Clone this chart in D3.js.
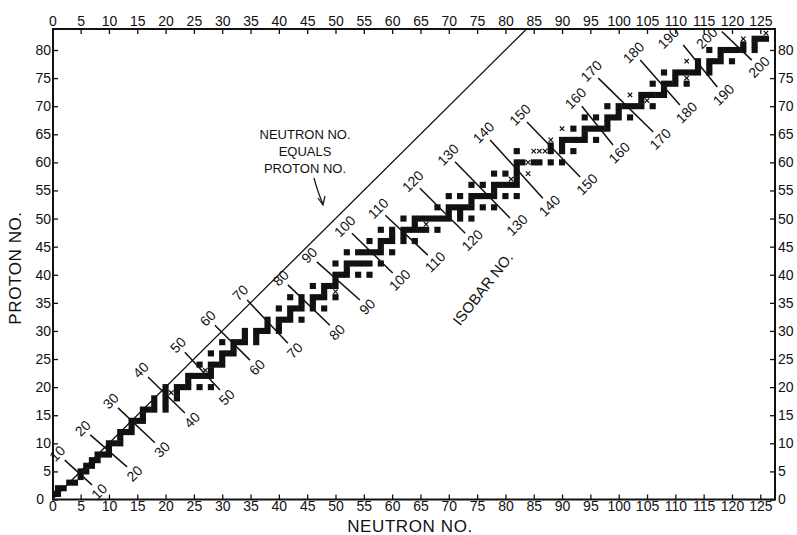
<!DOCTYPE html>
<html>
<head>
<meta charset="utf-8">
<script src="https://cdn.jsdelivr.net/npm/d3@7"></script>
<style>
body { margin: 0; background: #fff; }
text { font-family: "Liberation Sans", Arial, sans-serif; fill: #111; }
</style>
</head>
<body>
<script>
// proton number Z -> neutron numbers of the stable nuclides
var protonNo = d3.range(1, 84);
var neutronNo = [
  [0, 1], [1, 2], [3, 4], [5], [5, 6], [6, 7], [7, 8], [8, 9, 10], [10], [10, 11, 12],
  [12], [12, 13, 14], [14], [14, 15, 16], [16], [16, 17, 18, 20], [18, 20], [18, 20, 22], [20, 22], [20, 22, 23, 24, 26, 28],
  [24], [24, 25, 26, 27, 28], [28], [26, 28, 29, 30], [30], [28, 30, 31, 32], [32], [30, 32, 33, 34, 36], [34, 36], [34, 36, 37, 38, 40],
  [38, 40], [38, 40, 41, 42, 44], [42], [40, 42, 43, 44, 46, 48], [44, 46], [42, 44, 46, 47, 48, 50], [48], [46, 48, 49, 50], [50], [50, 51, 52, 54, 56],
  [52], [50, 52, 53, 54, 55, 56, 58], [], [52, 54, 55, 56, 57, 58, 60], [58], [56, 58, 59, 60, 62, 64], [60, 62], [58, 60, 62, 63, 64, 65, 66, 68], [64], [62, 64, 65, 66, 67, 68, 69, 70, 72, 74],
  [70, 72], [68, 70, 71, 72, 73, 74, 76, 78], [74], [70, 72, 74, 75, 76, 77, 78, 80, 82], [78], [74, 76, 78, 79, 80, 81, 82], [82], [78, 80, 82], [82], [82, 83, 85, 86, 88, 90],
  [], [82, 88, 90, 92], [88, 90], [90, 91, 92, 93, 94, 96], [94], [92, 94, 95, 96, 97, 98], [98], [94, 96, 98, 99, 100, 102], [100], [98, 100, 101, 102, 103, 104, 106],
  [104], [104, 105, 106, 107, 108], [108], [106, 108, 109, 110, 112], [110], [108, 110, 111, 112, 113, 114, 116], [114, 116], [114, 116, 117, 118, 120], [118], [116, 118, 119, 120, 121, 122, 124],
  [122, 124], [124, 125, 126], []
];

// naturally radioactive ones, drawn as x
var crossN = [21, 27, 50, 66, 81, 84, 84, 85, 86, 87, 88, 90, 102, 105, 112, 112, 122, 126];
var crossZ = [19, 23, 37, 49, 57, 58, 60, 62, 62, 62, 64, 66, 72, 71, 75, 78, 82, 83];

// isobar lines: mass number and the (N, Z) at each end of the drawn segment
var isobarA = [10, 20, 30, 40, 50, 60, 70, 80, 90, 100, 110, 120, 130, 140, 150, 160, 170, 180, 190, 200];
var isoTopN = [2.2, 6.7, 11.6, 16.9, 23.4, 28.7, 34.4, 41.6, 46.7, 52.9, 58.8, 64.9, 71.1, 77.3, 83.8, 93.5, 96.4, 103.8, 111.4, 118.2];
var isoTopZ = [7.0, 11.5, 16.3, 21.8, 26.2, 31.0, 35.5, 38.2, 42.3, 47.4, 50.6, 55.4, 60.1, 64.0, 67.2, 70.0, 75.0, 78.2, 80.9, 83.3];
var isoBotN = [7.0, 13.2, 18.1, 23.4, 29.6, 34.9, 41.6, 49.0, 54.3, 60.1, 66.3, 72.9, 80.8, 86.6, 93.2, 99.0, 106.1, 110.8, 117.4, 123.5];
var isoBotZ = [2.6, 5.8, 10.1, 15.4, 19.5, 24.8, 27.8, 31.0, 35.5, 40.3, 43.5, 47.4, 50.1, 53.6, 57.4, 63.1, 65.4, 70.2, 73.4, 78.2];

var tickN = d3.range(0, 126, 5);
var tickZ = d3.range(0, 81, 5);

var w = 797, h = 535;
var frameL = 53, frameR = 775, frameT = 29, frameB = 499.5;

var svg = d3.select("body").append("svg")
  .attr("width", w)
  .attr("height", h);

var x = d3.scaleLinear().domain([0, 125]).range([52.3, 760.3]);
var y = d3.scaleLinear().domain([0, 80]).range([499.5, 50]);

var cw = x(1) - x(0) + 0.5, ch = y(0) - y(1) + 0.5;

// stable nuclides
var cells = [];
protonNo.forEach(function(z, i) {
  neutronNo[i].forEach(function(n) { cells.push({ n: n, z: z }); });
});

svg.append("g").selectAll("rect")
  .data(cells)
  .enter()
  .append("rect")
  .attr("x", function(d) { return Math.max(frameL, x(d.n) - cw / 2); })
  .attr("y", function(d) { return Math.max(frameT, y(d.z) - ch / 2); })
  .attr("width", function(d) { return Math.min(frameR, x(d.n) + cw / 2) - Math.max(frameL, x(d.n) - cw / 2); })
  .attr("height", function(d) { return Math.min(frameB, y(d.z) + ch / 2) - Math.max(frameT, y(d.z) - ch / 2); })
  .attr("fill", "#111");

var crosses = crossN.map(function(n, i) { return { n: n, z: crossZ[i] }; });
var cg = svg.append("g").attr("stroke", "#111").attr("stroke-width", 1.2);
crosses.forEach(function(d) {
  var cx = x(d.n), cy = y(d.z), s = 2.2;
  cg.append("line").attr("x1", cx - s).attr("y1", cy - s).attr("x2", cx + s).attr("y2", cy + s);
  cg.append("line").attr("x1", cx - s).attr("y1", cy + s).attr("x2", cx + s).attr("y2", cy - s);
});

// N = Z line
var zTop = y.invert(frameT);
svg.append("line")
  .attr("x1", x(0)).attr("y1", y(0))
  .attr("x2", x(zTop)).attr("y2", y(zTop))
  .attr("stroke", "#111").attr("stroke-width", 1.3);

// isobar lines and labels
var iso = isobarA.map(function(a, i) {
  return { a: a, n1: isoTopN[i], z1: isoTopZ[i], n2: isoBotN[i], z2: isoBotZ[i] };
});
var ig = svg.append("g");
iso.forEach(function(d) {
  var x1 = x(d.n1), y1 = y(d.z1), x2 = x(d.n2), y2 = y(d.z2);
  ig.append("line")
    .attr("x1", x1).attr("y1", y1).attr("x2", x2).attr("y2", y2)
    .attr("stroke", "#111").attr("stroke-width", 1.5);
  var ux = (x2 - x1), uy = (y2 - y1), len = Math.sqrt(ux * ux + uy * uy);
  ux /= len; uy /= len;
  var p1 = [x1 - ux * 10, y1 - uy * 10];
  if (p1[1] < frameT + 10) { p1 = [x1 - 15, frameT + 9]; }
  var p2 = [x2 + ux * 10, y2 + uy * 10];
  [p1, p2].forEach(function(p) {
    ig.append("text")
      .attr("transform", "translate(" + p[0] + "," + p[1] + ") rotate(-45)")
      .attr("text-anchor", "middle")
      .attr("dy", "0.35em")
      .style("font-size", "14px")
      .text(d.a);
  });
});

// frame
svg.append("rect")
  .attr("x", frameL).attr("y", frameT)
  .attr("width", frameR - frameL).attr("height", frameB - frameT)
  .attr("fill", "none").attr("stroke", "#111").attr("stroke-width", 2);

function styleAxis(g) {
  g.select(".domain").remove();
  g.selectAll("line").attr("stroke", "#111").attr("stroke-width", 1.3);
  g.selectAll("text").style("font-size", "14px").attr("fill", "#111");
}

svg.append("g").attr("transform", "translate(0," + frameT + ")")
  .call(d3.axisTop(x).tickValues(tickN).tickSize(-5).tickPadding(3)).call(styleAxis);
svg.append("g").attr("transform", "translate(0," + frameB + ")")
  .call(d3.axisBottom(x).tickValues(tickN).tickSize(-5).tickPadding(2)).call(styleAxis);
svg.append("g").attr("transform", "translate(" + frameL + ",0)")
  .call(d3.axisLeft(y).tickValues(tickZ).tickSize(-5).tickPadding(2)).call(styleAxis)
  .selectAll("text").filter(function(d) { return d === 0; }).attr("x", -9);
svg.append("g").attr("transform", "translate(" + frameR + ",0)")
  .call(d3.axisRight(y).tickValues(tickZ).tickSize(-5).tickPadding(3)).call(styleAxis);

// titles
svg.append("text")
  .attr("x", 410).attr("y", 532)
  .attr("text-anchor", "middle")
  .style("font-size", "17px")
  .style("letter-spacing", "0.6px")
  .text("NEUTRON NO.");

svg.append("text")
  .attr("transform", "translate(21,268) rotate(-90)")
  .attr("text-anchor", "middle")
  .style("font-size", "17px")
  .style("letter-spacing", "0.6px")
  .text("PROTON NO.");

svg.append("text")
  .attr("transform", "translate(487,292) rotate(-52)")
  .attr("text-anchor", "middle")
  .style("font-size", "15px")
  .text("ISOBAR NO.");

var note = ["NEUTRON NO.", "EQUALS", "PROTON NO."];
svg.append("g").selectAll("text")
  .data(note)
  .enter()
  .append("text")
  .attr("x", 305)
  .attr("y", function(d, i) { return 139 + i * 17; })
  .attr("text-anchor", "middle")
  .style("font-size", "13px")
  .text(function(d) { return d; });

svg.append("path")
  .attr("d", "M314,178 Q318,193 323,204")
  .attr("fill", "none").attr("stroke", "#111").attr("stroke-width", 1.2);
svg.append("path")
  .attr("d", "M318,198 L323,205 L325,196")
  .attr("fill", "none").attr("stroke", "#111").attr("stroke-width", 1.2);
</script>
</body>
</html>
